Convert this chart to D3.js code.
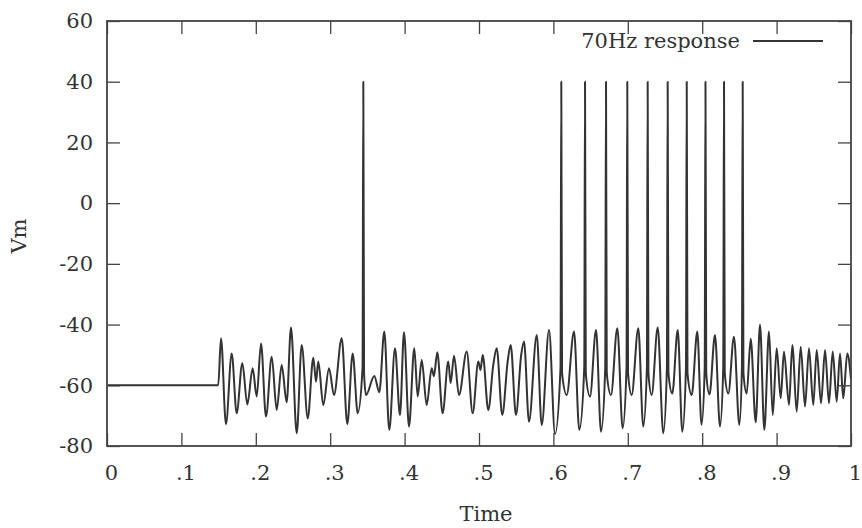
<!DOCTYPE html>
<html>
<head>
<meta charset="utf-8">
<script src="https://cdn.jsdelivr.net/npm/d3@7"></script>
<style>
  body { margin: 0; background: #fff; }
  text { font-family: "DejaVu Serif", "Liberation Serif", serif; fill: #333; }
</style>
</head>
<body>
<svg id="canvas" width="862" height="528"></svg>
<script>
// tick values and labels
let xTicks = [0, 0.1, 0.2, 0.3, 0.4, 0.5, 0.6, 0.7, 0.8, 0.9, 1]
let xTickLabels = ['0', '.1', '.2', '.3', '.4', '.5', '.6', '.7', '.8', '.9', '1']
let yTicks = [-80, -60, -40, -20, 0, 20, 40, 60]
let yTickLabels = ['-80', '-60', '-40', '-20', '0', '20', '40', '60']

// membrane potential, [time, Vm] (peaks, troughs and spikes)
let trace = [
  [0, -60], [0.1495, -60],
  [0.1532, -44.5], [0.1599, -72.8], [0.1676, -49.5], [0.1743, -69.2], [0.1819, -52.7], [0.1886, -66.3],
  [0.1958, -54.4], [0.2012, -63.7], [0.2070, -46.2], [0.2137, -70.3], [0.2214, -50.6], [0.2281, -68.1],
  [0.2348, -53.3], [0.2415, -65.6], [0.2473, -41.0], [0.2550, -75.8], [0.2617, -46.7], [0.2698, -70.9],
  [0.2773, -50.9], [0.2809, -58.8], [0.2840, -52.2], [0.2907, -66.5], [0.2984, -54.4], [0.3051, -63.2],
  [0.3155, -44.5], [0.3230, -72.8], [0.3302, -49.5], [0.3370, -69.2],
  [0.3435, -54], [0.3445, 40], [0.3455, -56],
  [0.3481, -63.2], [0.3593, -56.9], [0.3660, -62.3], [0.3727, -42.3], [0.3794, -74.7], [0.3871, -47.8],
  [0.3938, -69.8], [0.3992, -42.5], [0.4059, -73.6], [0.4130, -47.8], [0.4176, -63.7], [0.4230, -51.7],
  [0.4297, -66.5], [0.4364, -54.4], [0.4395, -57], [0.4439, -49.1], [0.4511, -69.2], [0.4587, -52.2],
  [0.4619, -59.3], [0.4664, -50.3], [0.4731, -63.2], [0.4835, -48.9], [0.4915, -69.2], [0.4991, -52.2],
  [0.5020, -55], [0.5050, -50.0], [0.5125, -68.1], [0.5192, -53.3], [0.5238, -47.8], [0.5313, -69.8],
  [0.5386, -52], [0.5426, -46.7], [0.5497, -69.8], [0.5567, -50], [0.5605, -45.6], [0.5672, -72.0],
  [0.5776, -43.4], [0.5843, -73.1], [0.5941, -41.8], [0.6022, -76],
  [0.6096, -54], [0.6106, 40], [0.6116, -56],
  [0.6179, -63.2], [0.6277, -42.3], [0.6348, -74.7],
  [0.6415, -54], [0.6425, 40], [0.6435, -56],
  [0.6492, -63.7], [0.6573, -41.8], [0.6640, -75.3],
  [0.6697, -54], [0.6707, 40], [0.6717, -56],
  [0.6774, -63.2], [0.6859, -41.2], [0.6931, -74.2],
  [0.6983, -54], [0.6993, 40], [0.7003, -56],
  [0.7052, -63.2], [0.7141, -41.2], [0.7208, -73.6],
  [0.7257, -54], [0.7267, 40], [0.7277, -56],
  [0.7321, -63.2], [0.7402, -41.0], [0.7477, -75.8],
  [0.7526, -54], [0.7536, 40], [0.7546, -56],
  [0.7598, -62.7], [0.7671, -41.8], [0.7733, -75.3],
  [0.7782, -54], [0.7792, 40], [0.7802, -56],
  [0.7859, -63.2], [0.7934, -42.3], [0.7991, -73],
  [0.8034, -54], [0.8044, 40], [0.8054, -56],
  [0.8098, -63], [0.8172, -43.4], [0.8239, -73.6],
  [0.8283, -54], [0.8293, 40], [0.8303, -56],
  [0.8351, -62.7], [0.8427, -44.0], [0.8499, -73.1],
  [0.8534, -54], [0.8544, 40], [0.8554, -56],
  [0.8598, -62.7], [0.8652, -44.7], [0.8719, -72.2], [0.8777, -40.1], [0.8835, -74.7], [0.8898, -42.3],
  [0.8948, -69.8], [0.9001, -47.8], [0.9055, -64.3], [0.9099, -48.9], [0.9167, -66.5], [0.9211, -46.7],
  [0.9270, -68.7], [0.9324, -47.3], [0.9382, -67.0], [0.9435, -47.8], [0.9493, -66.5], [0.9539, -48.4],
  [0.9597, -65.9], [0.9651, -48.4], [0.9704, -65.9], [0.9754, -48.9], [0.9808, -65.4], [0.9852, -49.5],
  [0.9896, -64.3], [0.9950, -49.5], [1.0, -58]
]

let legendLabel = '70Hz response'

let svg = d3.select('#canvas')

let x = d3.scaleLinear().domain([0, 1]).range([107, 851])
let y = d3.scaleLinear().domain([-80, 60]).range([446, 21])

let tick = 13

// bottom axis with labels
let bottom = svg.append('g')
  .attr('transform', 'translate(0,446)')
  .call(d3.axisBottom(x).tickValues(xTicks).tickSize(-tick).tickPadding(19)
    .tickFormat((d, i) => xTickLabels[i]))
bottom.selectAll('text').attr('dx', 4)

// left axis with labels
svg.append('g')
  .attr('transform', 'translate(107,0)')
  .call(d3.axisLeft(y).tickValues(yTicks).tickSize(-tick).tickPadding(14)
    .tickFormat((d, i) => yTickLabels[i]))

// mirrored ticks
svg.append('g')
  .attr('transform', 'translate(0,21)')
  .call(d3.axisTop(x).tickValues(xTicks).tickSize(-tick).tickFormat(''))
svg.append('g')
  .attr('transform', 'translate(851,0)')
  .call(d3.axisRight(y).tickValues(yTicks).tickSize(-tick).tickFormat(''))

svg.selectAll('.domain').remove()
svg.selectAll('.tick line').attr('stroke', '#444').attr('stroke-width', 1.3)
svg.selectAll('.tick text')
  .attr('font-size', 21)
  .attr('font-family', '"DejaVu Serif", serif')
  .attr('fill', '#333')

// trace
let line = d3.line()
  .x(d => x(d[0]))
  .y(d => y(d[1]))
  .curve(d3.curveMonotoneX)

svg.append('path')
  .datum(trace)
  .attr('d', line)
  .attr('fill', 'none')
  .attr('stroke', '#333')
  .attr('stroke-width', 2)
  .attr('stroke-linejoin', 'round')

// frame
svg.append('rect')
  .attr('x', 107).attr('y', 21)
  .attr('width', 744).attr('height', 425)
  .attr('fill', 'none')
  .attr('stroke', '#444')
  .attr('stroke-width', 1.8)

// key
svg.append('text')
  .attr('x', 740).attr('y', 48)
  .attr('text-anchor', 'end')
  .attr('font-size', 21)
  .text(legendLabel)
svg.append('line')
  .attr('x1', 753).attr('x2', 823)
  .attr('y1', 41).attr('y2', 41)
  .attr('stroke', '#333')
  .attr('stroke-width', 1.8)

// axis titles
svg.append('text')
  .attr('x', 486).attr('y', 521)
  .attr('text-anchor', 'middle')
  .attr('font-size', 21)
  .text('Time')

svg.append('text')
  .attr('transform', 'translate(26,236) rotate(-90)')
  .attr('text-anchor', 'middle')
  .attr('font-size', 21)
  .text('Vm')
</script>
</body>
</html>
